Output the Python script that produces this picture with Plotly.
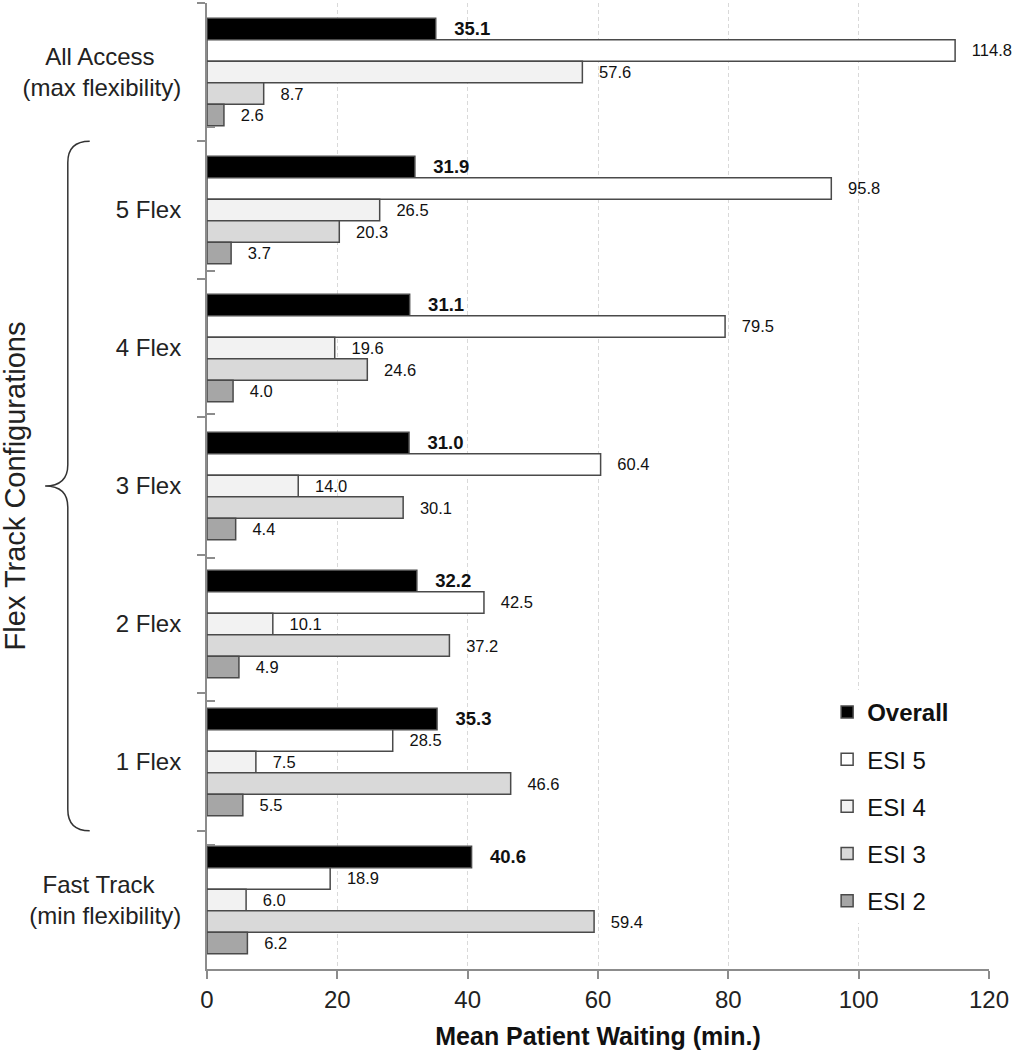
import plotly.graph_objects as go

NB = "\u00a0"
categories = ["All Access" + NB * 4 + "<br>(max flexibility)", "5 Flex", "4 Flex", "3 Flex",
              "2 Flex", "1 Flex", "Fast Track" + NB * 4 + "<br>(min flexibility)"]
series_names = ["Overall", "ESI 5", "ESI 4", "ESI 3", "ESI 2"]
overall = [35.1, 31.9, 31.1, 31.0, 32.2, 35.3, 40.6]
esi5 = [114.8, 95.8, 79.5, 60.4, 42.5, 28.5, 18.9]
esi4 = [57.6, 26.5, 19.6, 14.0, 10.1, 7.5, 6.0]
esi3 = [8.7, 20.3, 24.6, 30.1, 37.2, 46.6, 59.4]
esi2 = [2.6, 3.7, 4.0, 4.4, 4.9, 5.5, 6.2]
x_ticks = [0, 20, 40, 60, 80, 100, 120]

values = [overall, esi5, esi4, esi3, esi2]
colors = ["#000000", "#ffffff", "#f2f2f2", "#d9d9d9", "#a6a6a6"]
FONT = "Liberation Sans, Arial, sans-serif"

fig = go.Figure()
for i, (name, vals, col) in enumerate(zip(series_names, values, colors)):
    bold = (i == 0)
    fig.add_trace(go.Bar(
        y=categories, x=vals, orientation="h",
        name=("<b>%s</b>" % name) if bold else name,
        legendgroup=name,
        marker=dict(color=col, line=dict(color="#4a4a4a", width=1.5)),
        text=vals,
        texttemplate=NB * 3 + "%{x:.1f}",
        textposition="outside",
        constraintext="none",
        cliponaxis=False,
        textfont=dict(family=FONT, size=18.5 if bold else 16.5, color="#111111",
                      weight="bold" if bold else "normal"),
        hoverinfo="x+name",
    ))

# invisible helper trace for the inner half of the y ticks
fig.add_trace(go.Scatter(
    x=[0] * len(categories), y=categories, yaxis="y2", mode="markers",
    marker=dict(opacity=0), showlegend=False, hoverinfo="skip"))

fig.update_layout(
    width=1016, height=1050,
    margin=dict(l=207, r=27, t=3, b=81),
    paper_bgcolor="white", plot_bgcolor="white",
    barmode="group", bargap=0.22, bargroupgap=0,
    font=dict(family=FONT, color="#222222"),
    xaxis=dict(
        range=[0, 120], tickvals=x_ticks, showline=True, linecolor="#8c8c8c",
        linewidth=2, ticks="outside", ticklen=8, tickwidth=2, tickcolor="#8c8c8c",
        showgrid=True, gridcolor="#d9d9d9", griddash="4px,3px", gridwidth=1,
        zeroline=False, tickfont=dict(size=24, color="#222222"),
        title=dict(text="<b>Mean Patient Waiting (min.)</b>",
                   font=dict(size=25, color="#111111"), standoff=16),
        automargin=False,
    ),
    yaxis=dict(
        type="category", autorange="reversed", showline=True, linecolor="#8c8c8c",
        linewidth=2, ticks="outside", tickson="boundaries", ticklen=8, tickwidth=1.5,
        tickcolor="#8c8c8c", showgrid=False, zeroline=False,
        tickfont=dict(size=24, color="#222222"), ticklabelstandoff=19,
        automargin=False,
    ),
    yaxis2=dict(
        type="category", autorange="reversed", overlaying="y", side="left",
        showline=False, ticks="inside", tickson="boundaries", ticklen=8,
        tickwidth=1.5, tickcolor="#8c8c8c", showticklabels=False, showgrid=False,
        zeroline=False, categoryorder="array", categoryarray=categories,
    ),
    legend=dict(
        x=0.793, y=0.289, xanchor="left", yanchor="top", bgcolor="white",
        font=dict(size=24, color="#111111"), tracegroupgap=13,
        traceorder="grouped",
    ),
    showlegend=True,
)

# brace and group label for the Flex Track configurations
brace = ("M -0.150,0.857 Q -0.178,0.857 -0.178,0.835 L -0.178,0.522 "
         "Q -0.178,0.500 -0.207,0.500 Q -0.178,0.500 -0.178,0.478 "
         "L -0.178,0.165 Q -0.178,0.143 -0.150,0.143")
fig.add_shape(type="path", path=brace, xref="paper", yref="paper",
              line=dict(color="#333333", width=1.5))
fig.add_annotation(text="Flex Track Configurations", xref="paper", yref="paper",
                   x=-0.245, y=0.5, xanchor="center", yanchor="middle",
                   textangle=-90, showarrow=False,
                   font=dict(size=29, color="#222222"))

fig.write_html("out.html", config={"displayModeBar": False},
               post_script="document.body.style.margin='0px';")
